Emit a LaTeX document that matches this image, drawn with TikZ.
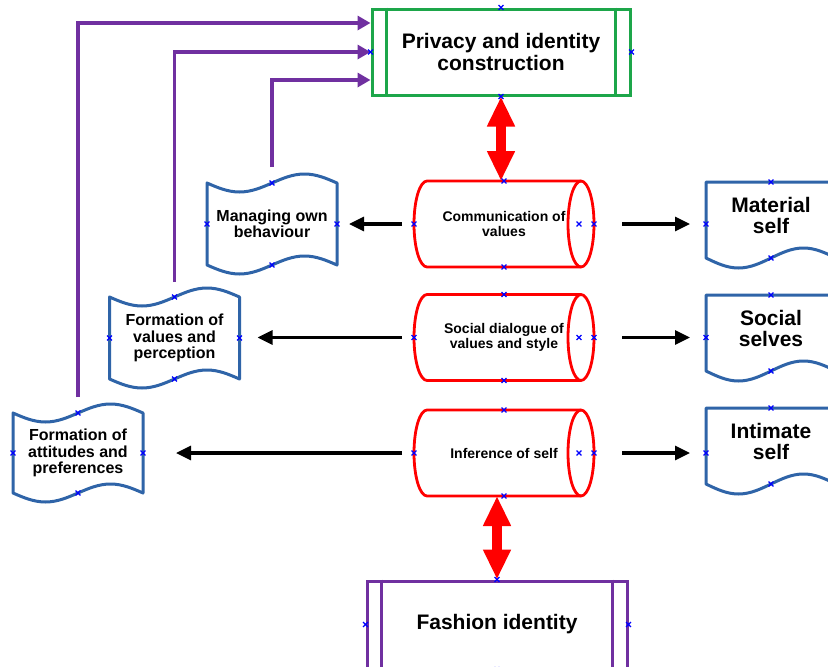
\documentclass[tikz,border=0pt]{standalone}
\usepackage{fontspec}
\setmainfont{Liberation Sans}
\usetikzlibrary{arrows.meta}

\definecolor{boxgreen}{HTML}{1DA64A}
\definecolor{linkpurple}{HTML}{7030A0}
\definecolor{cylred}{HTML}{FF0000}
\definecolor{docblue}{HTML}{2F64A8}
\definecolor{markblue}{HTML}{0000FF}

% small connection crosses
\newcommand{\cpmark}[1]{\draw[markblue,line width=1.1pt] (#1) +(-2.4pt,-2.4pt) -- +(2.4pt,2.4pt) (#1) +(-2.4pt,2.4pt) -- +(2.4pt,-2.4pt);}
\newcommand{\procoutline}[2]{\draw[#2] ([xshift=16pt]#1.north west) -- ([xshift=16pt]#1.south west) ([xshift=-16pt]#1.north east) -- ([xshift=-16pt]#1.south east);}
\newcommand{\cyloutline}[1]{%
  \draw[cylline] ([xshift=13pt]#1.north west) -- ([xshift=-13pt]#1.north east)
    arc[start angle=90,end angle=-90,x radius=13pt,y radius=43pt]
    -- ([xshift=13pt]#1.south west)
    arc[start angle=270,end angle=90,x radius=13pt,y radius=43pt] -- cycle;
  \draw[cylline] ([xshift=-13pt]#1.north east) arc[start angle=90,end angle=270,x radius=13pt,y radius=43pt];}
\newcommand{\tapeoutline}[1]{\draw[docline] (#1.north west) sin ++(32.5,9) cos ++(32.5,-9) sin ++(32.5,-9) cos ++(32.5,9)
    -- (#1.south east) sin ++(-32.5,-9) cos ++(-32.5,9) sin ++(-32.5,9) cos ++(-32.5,-9) -- cycle;}
\newcommand{\pageoutline}[1]{\draw[docline] (#1.north east) -- (#1.north west) -- ([yshift=-10pt]#1.south west)
    sin ++(32.5,10) cos ++(32.5,-10) sin ++(32.5,-10) cos ++(32.5,10) -- cycle;}

\begin{document}
\begin{tikzpicture}[x=1pt,y=-1pt,
  procbox/.style={draw,line width=3pt,minimum width=258pt,minimum height=86pt,inner sep=0pt,align=center,font=\bfseries\fontsize{21}{22}\selectfont},
  cylbox/.style={minimum width=180pt,minimum height=86pt,inner sep=0pt,outer sep=0pt,align=center,font=\bfseries\fontsize{14}{15}\selectfont},
  cylline/.style={draw=cylred,line width=2.8pt},
  tapebox/.style={minimum width=130pt,minimum height=82pt,inner sep=0pt,outer sep=0pt,align=center,font=\bfseries\fontsize{16}{16.5}\selectfont},
  pagebox/.style={minimum width=130pt,minimum height=66pt,inner sep=0pt,outer sep=0pt,align=center,font=\bfseries\fontsize{21}{21}\selectfont},
  docline/.style={draw=docblue,line width=3pt,line join=round},
  flowarrow/.style={linkpurple,line width=3.6pt,-{Triangle[length=13pt,width=14pt]}},
  sidearrow/.style={black,line width=3.2pt,-{Triangle[length=15pt,width=14pt]}},
  bigarrow/.style={cylred,line width=10pt,{Triangle[length=30pt,width=26pt]}-{Triangle[length=30pt,width=26pt]}},
]
\useasboundingbox (0,0) rectangle (828,667);
\fill[white] (0,0) rectangle (828,667);
\clip (0,0) rectangle (828,667);
%%
\node (privacy) at (501,52) [procbox,draw=boxgreen] {Privacy and identity\\construction};
\node (fashion) at (497,624.5) [procbox,draw=linkpurple,minimum width=260pt,minimum height=87pt] {Fashion identity};
\procoutline{privacy}{boxgreen,line width=3pt}
\procoutline{fashion}{linkpurple,line width=3pt}
%
\node (comm) at (504,224) [cylbox] {Communication of\\values};
\node (social) at (504,337.5) [cylbox] {Social dialogue of\\values and style};
\node (infer) at (504,453) [cylbox] {Inference of self};
\cyloutline{comm}
\cyloutline{social}
\cyloutline{infer}
%
\node (manage) at (272,224) [tapebox] {Managing own\\behaviour};
\node (values) at (174.5,338) [tapebox] {Formation of\\values and\\perception};
\node (attit) at (78,453) [tapebox,minimum height=80pt] {Formation of\\attitudes and\\preferences};
\tapeoutline{manage}
\tapeoutline{values}
\tapeoutline{attit}
%
\node (matself) at (771,215) [pagebox] {Material\\self};
\node (socself) at (771,328) [pagebox] {Social\\selves};
\node (intself) at (771,441) [pagebox] {Intimate\\self};
\pageoutline{matself}
\pageoutline{socself}
\pageoutline{intself}
%%
\draw [bigarrow] (privacy.south) -- (privacy.south |- comm.north);
\draw [bigarrow] (fashion.north |- infer.south) -- (fashion.north);
\draw [flowarrow,shorten <=16pt] (attit.north) |- ([yshift=29pt]privacy.west);
\draw [flowarrow,shorten <=15pt] (values.north) |- (privacy.west);
\draw [flowarrow,shorten <=16pt] (manage.north) |- ([yshift=-28pt]privacy.west);
\draw [sidearrow,shorten <=12pt,shorten >=12pt] (comm.west) -- (manage.east);
\draw [sidearrow,shorten <=12pt,shorten >=18pt] (social.west) -- (social.west -| values.east);
\draw [sidearrow,shorten <=12pt,shorten >=33pt] (infer.west) -- (infer.west -| attit.east);
\draw [sidearrow,shorten <=28pt,shorten >=16pt] (comm.east) -- (comm.east -| matself.west);
\draw [sidearrow,shorten <=28pt,shorten >=16pt] (social.east) -- (social.east -| socself.west);
\draw [sidearrow,shorten <=28pt,shorten >=16pt] (infer.east) -- (infer.east -| intself.west);
%
\foreach \n in {privacy,fashion,comm,social,infer,manage,values,attit}
  {\cpmark{\n.north} \cpmark{\n.south} \cpmark{\n.west} \cpmark{\n.east}}
\foreach \n in {comm,social,infer}
  {\cpmark{[xshift=-15pt]\n.east}}
\cpmark{matself.north} \cpmark{matself.west |- comm.east} \cpmark{[yshift=-10pt]matself.south}
\cpmark{socself.north} \cpmark{socself.west |- social.east} \cpmark{[yshift=-10pt]socself.south}
\cpmark{intself.north} \cpmark{intself.west |- infer.east} \cpmark{[yshift=-10pt]intself.south}
%
\end{tikzpicture}
\end{document}
